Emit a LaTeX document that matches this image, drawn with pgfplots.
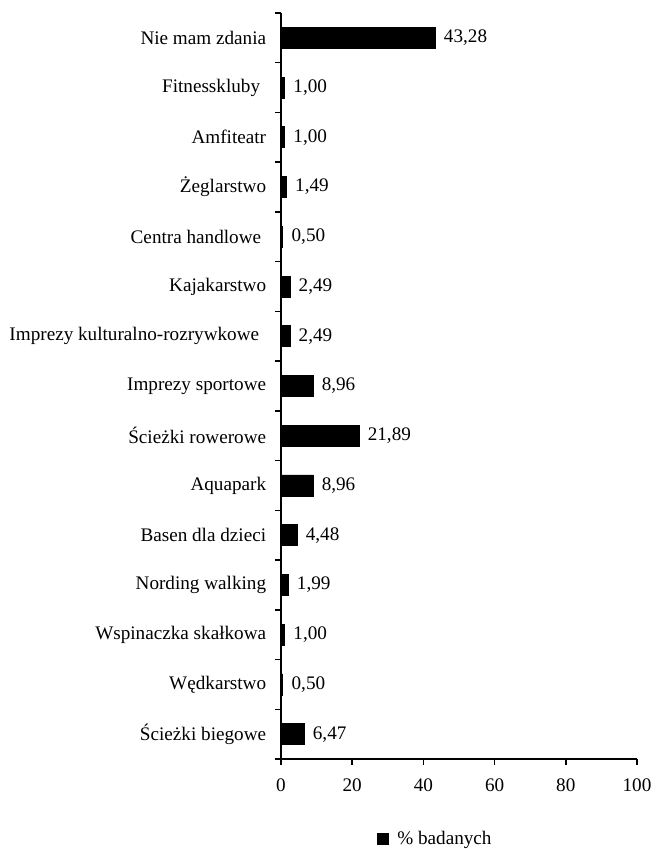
\documentclass[border=0pt]{standalone}
\usepackage{fontspec}
\setmainfont{Liberation Serif}
\usepackage{pgfplots}
\pgfplotsset{compat=1.18}
\newcommand\cf{\fontsize{11.5pt}{13pt}\selectfont}
\begin{document}
\begin{tikzpicture}
\useasboundingbox (-168.6pt,-54pt) rectangle (225pt,455.4pt);
\begin{axis}[
  at={(0,0)}, anchor=south west,
  scale only axis,
  width=213.6pt, height=447.6pt,
  xbar, bar width=12.6pt,
  xmin=0, xmax=100, ymin=-0.5, ymax=14.5,
  enlargelimits=false,
  axis x line=bottom, axis y line=left,
  axis line style={-, line width=0.9pt, black},
  tick style={line width=0.9pt, black},
  tick align=outside,
  xtick={0,20,40,60,80,100},
  major tick length=3.6pt,
  ytick={0,...,14},
  ytick style={draw=none},
  yticklabels={{Ścieżki biegowe},{Wędkarstwo},{Wspinaczka skałkowa},{Nording walking},{Basen dla dzieci},{Aquapark},{Ścieżki rowerowe},{Imprezy sportowe},{Imprezy kulturalno-rozrywkowe\hspace*{4.2pt}},{Kajakarstwo},{Centra handlowe\hspace*{3pt}},{Żeglarstwo},{Amfiteatr},{Fitnesskluby\hspace*{3.6pt}},{Nie mam zdania}},
  extra y ticks={-0.5,0.5,...,14.5},
  extra y tick labels={},
  extra y tick style={ytick style={draw=black, line width=0.9pt}, major tick length=3.6pt},
  tick label style={font=\cf},
  yticklabel style={xshift=-1.8pt},
  xticklabel style={yshift=-4.8pt},
  /pgf/number format/assume math mode=true,
  nodes near coords={\pgfmathprintnumber[fixed,zerofill,precision=2,use comma,assume math mode=true]{\pgfplotspointmeta}},
  point meta=x,
  nodes near coords style={font=\cf, black, xshift=1.8pt},
  legend style={at={(axis description cs:0.4354,-0.1072)}, anchor=center, draw=none, font=\cf, fill=none},
  legend image code/.code={\fill[black, draw=none] (0pt,-3.6pt) rectangle (7.2pt,3.6pt); \path[draw=none, fill=none] (0pt,0pt) rectangle (10.2pt,0pt);},
  clip=false,
]
\addplot[fill=black, draw=black] coordinates {
(6.47,0) (0.50,1) (1.00,2) (1.99,3) (4.48,4) (8.96,5) (21.89,6) (8.96,7)
(2.49,8) (2.49,9) (0.50,10) (1.49,11) (1.00,12) (1.00,13) (43.28,14)};
\addlegendentry{\% badanych}
\end{axis}
\end{tikzpicture}
\end{document}
